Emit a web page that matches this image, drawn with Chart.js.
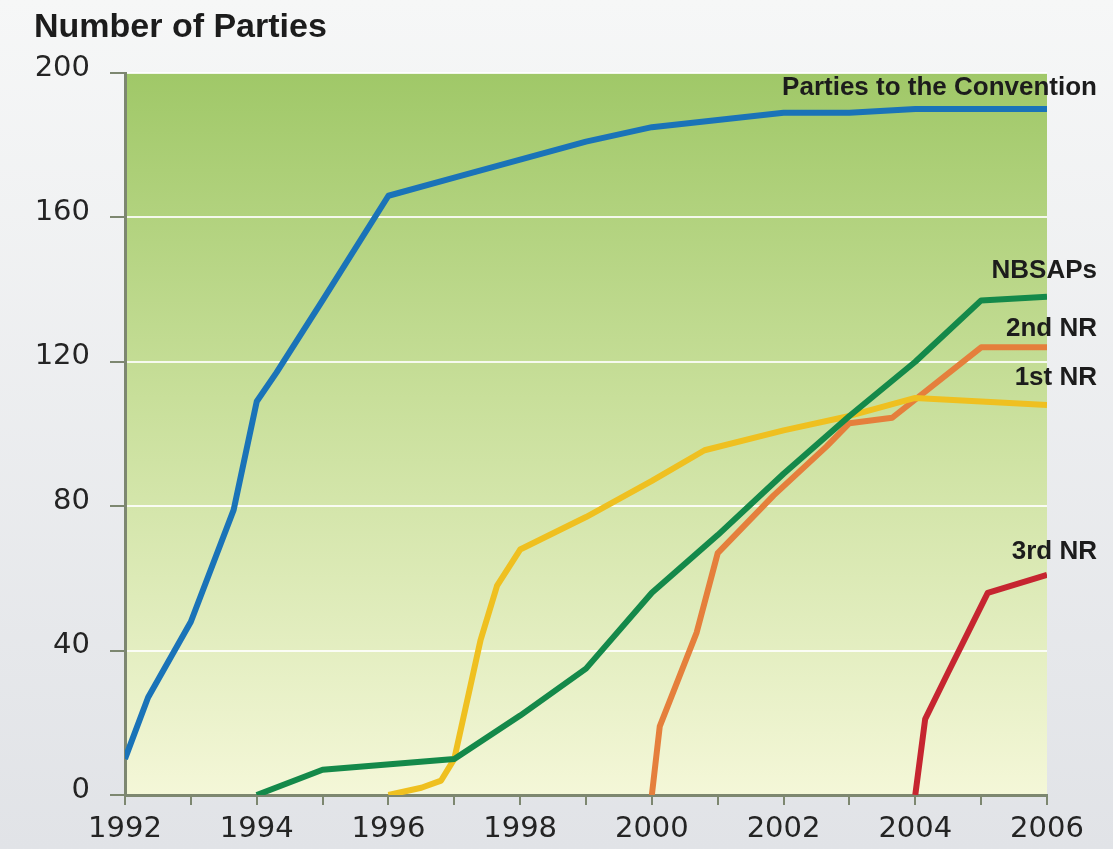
<!DOCTYPE html>
<html>
<head>
<meta charset="utf-8">
<title>Number of Parties</title>
<script src="https://cdn.jsdelivr.net/npm/chart.js@4.4.1/dist/chart.umd.min.js"></script>
<style>
  html, body { margin: 0; padding: 0; background: #eceef0; }
  #wrap { width: 1113px; height: 849px; position: relative; }
</style>
</head>
<body>
<div id="wrap"><canvas id="partiesChart"></canvas></div>
<script>
// values (year, number of parties)
const partiesYears = [1992, 1992.35, 1993, 1993.65, 1994, 1994.3, 1995, 1996, 1997, 1998, 1999, 2000, 2001, 2002, 2003, 2004, 2005, 2006];
const partiesVals  = [10, 27, 48, 79, 109, 117, 137, 166, 171, 176, 181, 185, 187, 189, 189, 190, 190, 190];

const nbsapYears = [1994, 1995, 1997, 1998, 1999, 2000, 2001, 2002, 2003, 2004, 2005, 2006];
const nbsapVals  = [0, 7, 10, 22, 35, 56, 72, 89, 105, 120, 137, 138];

const firstNrYears = [1996, 1996.5, 1996.8, 1997, 1997.4, 1997.65, 1998, 1999, 2000, 2000.8, 2002, 2003, 2004, 2005, 2006];
const firstNrVals  = [0, 2, 4, 10, 43, 58, 68, 77, 87, 95.5, 101, 105, 110, 109, 108];

const secondNrYears = [2000, 2000.12, 2000.68, 2001, 2001.85, 2002.65, 2003, 2003.65, 2005, 2006];
const secondNrVals  = [0, 19, 45, 67, 83, 96.5, 103, 104.5, 124, 124];

const thirdNrYears = [2004, 2004.15, 2004.5, 2004.8, 2005.1, 2006];
const thirdNrVals  = [0, 21, 34, 45, 56, 61];

const seriesNames = ['Parties to the Convention', 'NBSAPs', '1st NR', '2nd NR', '3rd NR'];
const yTicks = [0, 40, 80, 120, 160, 200];

const toPoints = (xs, ys) => xs.map((x, i) => ({ x: x, y: ys[i] }));

const axisGray = '#7d8770';

// backgrounds: grey page, green-to-cream plot area
const backgroundPlugin = {
    id: 'bgFill',
    beforeDraw(chart) {
        const { ctx, chartArea: a, width, height } = chart;
        ctx.save();
        let g = ctx.createLinearGradient(0, 0, 0, height);
        g.addColorStop(0, '#f6f7f7');
        g.addColorStop(1, '#e1e3e7');
        ctx.fillStyle = g;
        ctx.fillRect(0, 0, width, height);

        g = ctx.createLinearGradient(0, a.top, 0, a.bottom);
        g.addColorStop(0, '#a0c868');
        g.addColorStop(0.45, '#c8df9a');
        g.addColorStop(1, '#f4f7d8');
        ctx.fillStyle = g;
        ctx.fillRect(a.left, a.top, a.right - a.left, a.bottom - a.top);
        ctx.restore();
    }
};

// title and line end labels
const labelPlugin = {
    id: 'endLabels',
    afterDraw(chart) {
        const { ctx } = chart;
        ctx.save();
        ctx.fillStyle = '#1c1c1c';
        ctx.font = 'bold 34px "Liberation Sans", Arial, sans-serif';
        ctx.textAlign = 'left';
        ctx.textBaseline = 'alphabetic';
        ctx.fillText('Number of Parties', 34, 37);

        ctx.font = 'bold 26px "Liberation Sans", Arial, sans-serif';
        ctx.textAlign = 'right';
        ctx.textBaseline = 'middle';
        const yScale = chart.scales.y;
        chart.data.datasets.forEach(ds => {
            const last = ds.data[ds.data.length - 1];
            const y = yScale.getPixelForValue(last.y) + ds.labelDy;
            ctx.fillText(ds.label, 1097, y);
        });
        ctx.restore();
    }
};

const lineStyle = { borderWidth: 6, pointRadius: 0, tension: 0, borderJoinStyle: 'round', borderCapStyle: 'butt', fill: false };

new Chart(document.getElementById('partiesChart'), {
    type: 'line',
    data: {
        datasets: [
            { label: seriesNames[0], data: toPoints(partiesYears, partiesVals), borderColor: '#1a73b8', labelDy: -21, ...lineStyle },
            { label: seriesNames[1], data: toPoints(nbsapYears, nbsapVals), borderColor: '#14894a', labelDy: -26, ...lineStyle },
            { label: seriesNames[2], data: toPoints(firstNrYears, firstNrVals), borderColor: '#efc020', labelDy: -27, ...lineStyle },
            { label: seriesNames[3], data: toPoints(secondNrYears, secondNrVals), borderColor: '#e57f3c', labelDy: -19, ...lineStyle },
            { label: seriesNames[4], data: toPoints(thirdNrYears, thirdNrVals), borderColor: '#c62530', labelDy: -23, ...lineStyle }
        ]
    },
    options: {
        responsive: true,
        maintainAspectRatio: false,
        animation: false,
        layout: { padding: { top: 73, right: 66, left: 0, bottom: 0 } },
        plugins: { legend: { display: false }, tooltip: { enabled: false }, title: { display: false } },
        scales: {
            x: {
                type: 'linear',
                min: 1992,
                max: 2006,
                afterFit: s => { s.height = 54; },
                grid: { drawOnChartArea: false, tickLength: 10, tickColor: axisGray, lineWidth: 2 },
                border: { color: axisGray, width: 3 },
                ticks: {
                    stepSize: 1,
                    padding: 7,
                    maxRotation: 0,
                    autoSkip: false,
                    color: '#242424',
                    font: { family: '"DejaVu Sans", Verdana, sans-serif', size: 29 },
                    callback: v => (v % 2 === 0 ? String(v) : '')
                }
            },
            y: {
                min: yTicks[0],
                max: yTicks[yTicks.length - 1],
                afterFit: s => { s.width = 125; },
                afterBuildTicks: s => { s.ticks = yTicks.map(v => ({ value: v })); },
                grid: { color: 'rgba(255,255,255,0.85)', lineWidth: 2, tickLength: 15, tickColor: axisGray },
                border: { color: axisGray, width: 3 },
                ticks: {
                    padding: 20,
                    labelOffset: -5,
                    color: '#242424',
                    font: { family: '"DejaVu Sans", Verdana, sans-serif', size: 29 }
                }
            }
        }
    },
    plugins: [backgroundPlugin, labelPlugin]
});
</script>
</body>
</html>
